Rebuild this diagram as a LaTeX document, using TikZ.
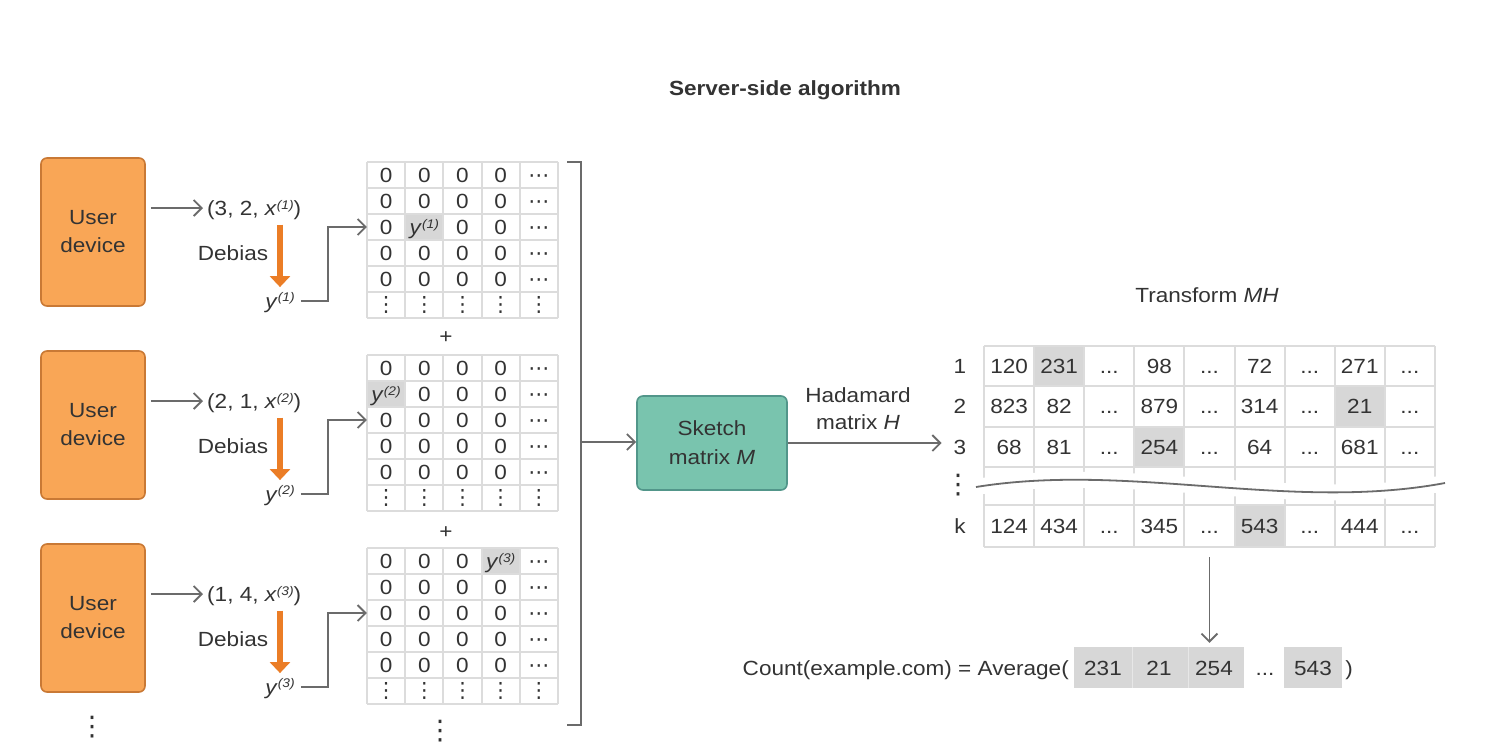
\documentclass[tikz,border=0pt]{standalone}
\usepackage{fontspec}
\setmainfont[FakeStretch=1.1]{Liberation Sans}
\newfontfamily\dvfont{DejaVu Sans}
\usetikzlibrary{arrows.meta}
\definecolor{ink}{HTML}{333333}
\definecolor{devfill}{HTML}{F9A656}
\definecolor{devline}{HTML}{C97935}
\definecolor{skfill}{HTML}{79C4AE}
\definecolor{skline}{HTML}{52968A}
\definecolor{debor}{HTML}{EB7D26}
\definecolor{conngray}{HTML}{6B6B6B}
\definecolor{gridgray}{HTML}{DCDCDC}
\definecolor{hlgray}{HTML}{D7D7D7}
\newcommand\fs{\fontsize{20.5}{24}\selectfont}
\newcommand\supx[1]{\raisebox{0.3em}{\fontsize{12.5}{12.5}\selectfont\itshape #1}}
\newcommand\eli{...}
\begin{document}
\begin{tikzpicture}[x=1pt,y=-1pt,
  every node/.style={font=\fs, text=ink},
  lbl/.style={inner sep=0pt, text height=14.7pt, text depth=0pt},
  devbox/.style={draw=devline, fill=devfill, line width=1.6pt, rounded corners=6pt,
    minimum width=104pt, minimum height=148pt, align=center, inner sep=0pt,
    font=\fontsize{20.5}{28}\selectfont},
  skbox/.style={draw=skline, fill=skfill, line width=1.6pt, rounded corners=6pt,
    minimum width=150pt, minimum height=94pt, align=center, inner sep=0pt,
    font=\fontsize{20.5}{29}\selectfont},
  conn/.style={draw=conngray, line width=1.8pt, -{Straight Barb[length=8pt,width=16pt]}},
  brkline/.style={draw=conngray, line width=1.8pt},
  debarrow/.style={draw=debor, line width=6pt, -{Triangle[length=11pt,width=20pt]}},
  gridl/.style={draw=gridgray, line width=2pt},
  cell/.style={lbl, minimum width=38.2pt, minimum height=26pt},
  celld/.style={inner sep=0pt, minimum width=38.2pt, minimum height=26pt, font=\dvfont\fontsize{21}{21}\selectfont},
  cellh/.style={celld, text height=14pt, text depth=0pt},
  rcell/.style={lbl, minimum width=50.1pt, minimum height=40pt},
  bigdot/.style={inner sep=0pt, font=\dvfont\fontsize{27}{27}\selectfont},
  hlbox/.style={fill=hlgray, inner sep=0pt}
]
\useasboundingbox (0,0) rectangle (1488,745);

% title
\node[lbl, font=\fs\bfseries] (title) at (785,88) {Server-side algorithm};

% three user blocks
\foreach \b/\o/\p/\q/\hr/\hc in {1/0/3/2/3/2, 2/193/2/1/2/1, 3/386/1/4/1/4}{
  \fill[hlgray] ({367+38.2*(\hc-1)},{162+\o+26*(\hr-1)}) rectangle ++(38.2,26);
  \foreach \k in {0,...,6} \draw[gridl] (367,{162+\o+26*\k}) -- (558,{162+\o+26*\k});
  \foreach \k in {0,...,5} \draw[gridl] ({367+38.2*\k},{162+\o}) -- ({367+38.2*\k},{318+\o});
  \foreach \r in {1,...,5}{
    \foreach \c in {1,...,4}{
      \pgfmathtruncatemacro\ishl{and(\r==\hr,\c==\hc)}
      \ifnum\ishl=1 \def\cellc{\textit{y}\supx{(\b)}}\else\def\cellc{0}\fi
      \node[cell] (m\b-\r-\c) at ({367+38.2*(\c-0.5)},{162+\o+26*(\r-0.5)}) {\cellc};
    }
    \node[cellh] (m\b-\r-5) at ({367+38.2*4.5},{162+\o+26*(\r-0.5)}) {⋯};
  }
  \foreach \c in {1,...,5}
    \node[celld] (m\b-6-\c) at ({367+38.2*(\c-0.5)},{162+\o+26*5.5}) {⋮};

  \node[devbox] (dev\b) at (93,{232+\o}) {User\\device};
  \node[lbl, anchor=west] (tup\b) at (207,{208+\o}) {(\p, \q, \textit{x}\supx{(\b)})};
  \node[lbl] (deb\b) at (233,{253+\o}) {Debias};
  \node[lbl, anchor=base] (y\b) at (280,{308+\o}) {\textit{y}\supx{(\b)}};

  \draw[conn, shorten <=5pt, shorten >=4pt] (dev\b.east |- tup\b.west) -- (tup\b.west);
  \draw[debarrow, shorten <=9pt, shorten >=6pt] (tup\b.south -| y\b.north) -- (y\b.north);
  \draw[conn, shorten <=6pt] (y\b.east) -- ([xshift=-39pt]m\b-3-1.west |- y\b.east) |- (m\b-3-1.west);
}

\node[lbl] (plus1) at (446,336) {+};
\node[lbl] (plus2) at (446,531) {+};
\node[bigdot] (devdots) at (92,727) {⋮};
\node[bigdot] (matdots) at (440,731) {⋮};

% bracket
\draw[brkline] (567,162) -- (581,162) -- (581,725) -- (567,725);
\coordinate (bk) at (581,442);

% sketch
\node[skbox] (sketch) at (712,443) {Sketch\\matrix \textit{M}};
\draw[conn] (bk) -- (bk -| sketch.west);
\node[align=center, inner sep=0pt, font=\fontsize{20.5}{27}\selectfont] (had) at (858,409) {Hadamard\\matrix \textit{H}};

% right matrix
\node[lbl] (tmh) at (1207,295) {Transform \textit{MH}};
\fill[hlgray] ({984+50.1*1},346) rectangle ++(50.1,40.3);
\fill[hlgray] ({984+50.1*7},386.3) rectangle ++(50.1,40.4);
\fill[hlgray] ({984+50.1*3},426.7) rectangle ++(50.1,40.3);
\fill[hlgray] ({984+50.1*5},505) rectangle ++(50.1,42);
\foreach \yy in {346,386.3,426.7,467,505,547} \draw[gridl] (984,\yy) -- (1435,\yy);
\foreach \k in {0,...,9} \draw[gridl] ({984+50.1*\k},346) -- ({984+50.1*\k},547);
\draw[white, line width=16pt] (976,487) .. controls (1130,462) and (1290,512) .. (1445,483);
\draw[conngray, line width=1.8pt] (976,487) .. controls (1130,462) and (1290,512) .. (1445,483);

\node[lbl] (rl1) at (960,366.2) {1};
\node[lbl] (rl2) at (960,406.5) {2};
\node[lbl] (rl3) at (960,446.8) {3};
\node[lbl] (rlk) at (960,526) {k};
\node[bigdot] (rdots) at (958,485.5) {⋮};

\foreach \c/\t in {1/120,2/231,3/\eli,4/98,5/\eli,6/72,7/\eli,8/271,9/\eli}
  \node[rcell] (r1-\c) at ({984+50.1*(\c-0.5)},366.2) {\t};
\foreach \c/\t in {1/823,2/82,3/\eli,4/879,5/\eli,6/314,7/\eli,8/21,9/\eli}
  \node[rcell] (r2-\c) at ({984+50.1*(\c-0.5)},406.5) {\t};
\foreach \c/\t in {1/68,2/81,3/\eli,4/254,5/\eli,6/64,7/\eli,8/681,9/\eli}
  \node[rcell] (r3-\c) at ({984+50.1*(\c-0.5)},446.8) {\t};
\foreach \c/\t in {1/124,2/434,3/\eli,4/345,5/\eli,6/543,7/\eli,8/444,9/\eli}
  \node[rcell] (rk-\c) at ({984+50.1*(\c-0.5)},526) {\t};

\draw[conn, shorten >=12pt] (sketch.east) -- (sketch.east -| rl3.west);

% count row
\node[lbl, anchor=east] (count) at (1069,668) {Count(example.com) = Average(};
\node[hlbox, minimum width=170pt, minimum height=41pt] (avgA) at (1159,667.5) {};
\node[hlbox, minimum width=58pt, minimum height=41pt] (avgB) at (1313,667.5) {};
\draw[draw=hlgray!60!white, line width=1pt] (1132,647) -- (1132,688);
\draw[draw=hlgray!60!white, line width=1pt] (1188,647) -- (1188,688);
\node[lbl] (a1) at (1103,668) {231};
\node[lbl] (a2) at (1159,668) {21};
\node[lbl] (a3) at (1214,668) {254};
\node[lbl] (a4) at (1265,668) {\eli};
\node[lbl] (a5) at (1313,668) {543};
\node[lbl] (a6) at (1349,668) {)};

\draw[conn, shorten <=11pt, shorten >=4pt] (rk-5.south) -- (rk-5.south |- avgA.north);
\end{tikzpicture}
\end{document}
